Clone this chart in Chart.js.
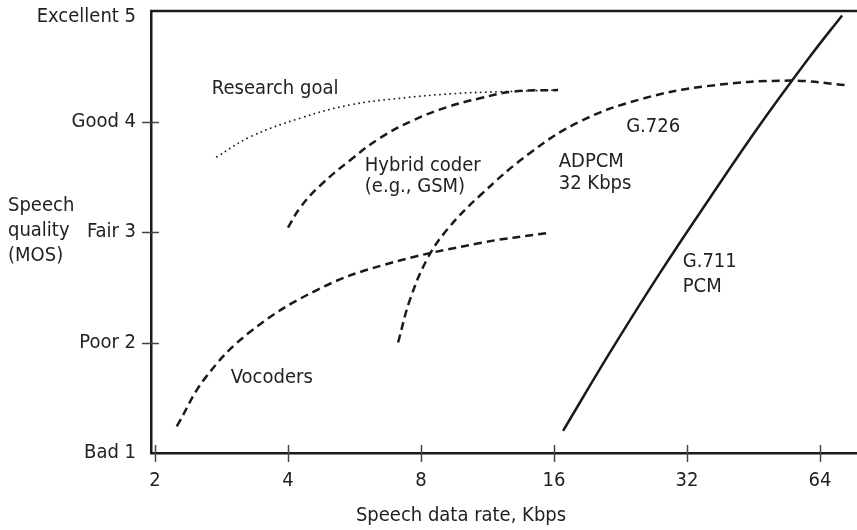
<!DOCTYPE html>
<html>
<head>
<meta charset="utf-8">
<script src="https://cdn.jsdelivr.net/npm/chart.js@4.4.1/dist/chart.umd.min.js"></script>
<style>
  html, body { margin: 0; padding: 0; background: #fff; }
  #wrap { width: 857px; height: 530px; position: relative; }
</style>
</head>
<body>
<div id="wrap"><canvas id="mosChart"></canvas></div>
<script>
// axis ticks
var xTicks = [2, 4, 8, 16, 32, 64];
var yTicks = ["Bad 1", "Poor 2", "Fair 3", "Good 4", "Excellent 5"];

// curves (rate in Kbps, MOS)
var researchRate = [2.76, 3.28, 4.26, 5.53, 7.17, 9.31, 12.06, 16.5];
var researchMos  = [3.68, 3.86, 4.03, 4.15, 4.21, 4.25, 4.27, 4.285];

var hybridRate = [4.0, 4.26, 4.73, 5.53, 6.46, 7.67, 9.16, 10.88, 12.92, 16.34];
var hybridMos  = [3.04, 3.22, 3.42, 3.65, 3.85, 4.01, 4.13, 4.21, 4.27, 4.285];

var vocoderRate = [2.24, 2.60, 3.28, 4.65, 6.56, 10.88, 15.4];
var vocoderMos  = [1.24, 1.68, 2.095, 2.475, 2.70, 2.90, 2.99];

var adpcmRate = [7.10, 7.55, 8.25, 9.16, 10.88, 14.12, 18.32, 25.05, 35.5, 54.7, 72.9];
var adpcmMos  = [2.0, 2.385, 2.75, 3.02, 3.33, 3.715, 4.0, 4.20, 4.32, 4.37, 4.33];

var pcmRate = [16.77, 21.42, 27.8, 36.08, 46.8, 60.8, 71.8];
var pcmMos  = [1.20, 1.91, 2.63, 3.31, 3.97, 4.59, 4.96];

// text labels in the plot (rate, MOS at text baseline)
var noteText = ["Research goal", "Hybrid coder", "(e.g., GSM)", "G.726", "ADPCM", "32 Kbps", "G.711", "PCM", "Vocoders"];
var noteRate = [2.69, 5.97, 5.97, 23.3, 16.4, 16.4, 31.3, 31.3, 2.97];
var noteMos  = [4.25, 3.55, 3.36, 3.905, 3.59, 3.39, 2.68, 2.46, 1.63];

var yTitle = ["Speech", "quality", "(MOS)"];
var xTitle = "Speech data rate, Kbps";

var FONT = '"DejaVu Sans Condensed", "Liberation Sans Narrow", "DejaVu Sans", sans-serif';
var INK = "#1a1a1a";

function toPoints(xs, ys) {
  return xs.map(function (x, i) { return { x: x, y: ys[i] }; });
}

function curve(xs, ys, dash, width) {
  return {
    data: toPoints(xs, ys),
    borderColor: INK,
    borderWidth: width,
    borderDash: dash,
    borderCapStyle: dash.length && dash[0] < 1 ? "round" : "butt",
    pointRadius: 0,
    fill: false,
    tension: 0.4,
  };
}

// frame top line, tick marks crossing the axes, notes and axis titles
var decorations = {
  id: "decorations",
  afterDraw: function (chart) {
    var ctx = chart.ctx;
    var area = chart.chartArea;
    var xs = chart.scales.x;
    var ys = chart.scales.y;
    ctx.save();

    ctx.strokeStyle = INK;
    ctx.lineWidth = 2.5;
    ctx.beginPath();
    ctx.moveTo(area.left - 1, area.top);
    ctx.lineTo(area.right, area.top);
    ctx.stroke();

    ctx.strokeStyle = "#444";
    ctx.lineWidth = 1.5;
    xTicks.forEach(function (v) {
      var px = Math.round(xs.getPixelForValue(v)) + 0.5;
      ctx.beginPath();
      ctx.moveTo(px, area.bottom - 8);
      ctx.lineTo(px, area.bottom + 9);
      ctx.stroke();
    });
    [2, 3, 4].forEach(function (v) {
      var py = Math.round(ys.getPixelForValue(v)) + 0.5;
      ctx.beginPath();
      ctx.moveTo(area.left - 9, py);
      ctx.lineTo(area.left + 8, py);
      ctx.stroke();
    });

    ctx.fillStyle = "#222";
    ctx.font = "20px " + FONT;
    ctx.textAlign = "left";
    ctx.textBaseline = "alphabetic";
    noteText.forEach(function (t, i) {
      ctx.fillText(t, xs.getPixelForValue(noteRate[i]), ys.getPixelForValue(noteMos[i]));
    });

    var base = ys.getPixelForValue(3);
    yTitle.forEach(function (t, i) {
      ctx.fillText(t, 8, base - 21 + i * 25);
    });

    // top tick label sits a little below its tick, clear of the frame
    ctx.textAlign = "right";
    ctx.textBaseline = "middle";
    ctx.fillText(yTicks[4], area.left - 15, ys.getPixelForValue(5) + 6);

    ctx.textAlign = "center";
    ctx.textBaseline = "alphabetic";
    ctx.fillText(xTitle, area.left + 310, area.bottom + 68);
    ctx.restore();
  },
};

var ctx = document.getElementById("mosChart").getContext("2d");
var mosChart = new Chart(ctx, {
  type: "line",
  data: {
    datasets: [
      curve(researchRate, researchMos, [0.1, 5], 1.8),
      curve(hybridRate, hybridMos, [8, 5], 2.5),
      curve(vocoderRate, vocoderMos, [8, 5], 2.5),
      curve(adpcmRate, adpcmMos, [8, 5], 2.5),
      curve(pcmRate, pcmMos, [], 2.5),
    ],
  },
  options: {
    responsive: true,
    maintainAspectRatio: false,
    animation: false,
    events: [],
    layout: { padding: { top: 11, right: 0, bottom: 0, left: 0 } },
    plugins: {
      legend: { display: false },
      tooltip: { enabled: false },
    },
    scales: {
      x: {
        type: "logarithmic",
        min: 1.959,
        max: 77.6,
        afterBuildTicks: function (scale) {
          scale.ticks = xTicks.map(function (v) { return { value: v }; });
        },
        afterFit: function (scale) {
          scale.height = 77;
          scale.paddingLeft = 0;
          scale.paddingRight = 0;
        },
        grid: { display: false },
        border: { display: true, color: INK, width: 2.5 },
        ticks: {
          autoSkip: false,
          maxRotation: 0,
          padding: 10,
          color: "#222",
          font: { family: FONT, size: 20, lineHeight: 1.0 },
          callback: function (v) { return String(v); },
        },
      },
      y: {
        type: "linear",
        min: 1,
        max: 5,
        afterFit: function (scale) {
          scale.width = 151;
          scale.paddingTop = 0;
          scale.paddingBottom = 0;
        },
        grid: { display: false },
        border: { display: true, color: INK, width: 2.5 },
        ticks: {
          stepSize: 1,
          padding: 7,
          color: "#222",
          font: { family: FONT, size: 20, lineHeight: 1.0 },
          callback: function (v) { return v === 5 ? "" : yTicks[v - 1]; },
        },
      },
    },
  },
  plugins: [decorations],
});
</script>
</body>
</html>
